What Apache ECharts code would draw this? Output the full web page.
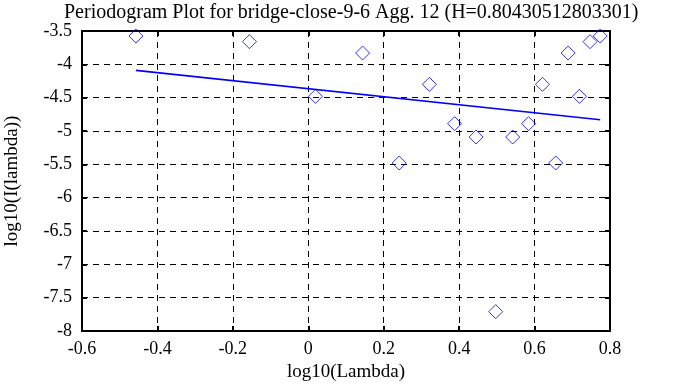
<!DOCTYPE html>
<html>
<head>
<meta charset="utf-8">
<script src="https://cdn.jsdelivr.net/npm/echarts@6/dist/echarts.min.js"></script>
<style>
html,body{margin:0;padding:0;background:#fff;}
#chart{width:683px;height:387px;}
</style>
</head>
<body>
<div id="chart"></div>
<script>
const titleText = 'Periodogram Plot for bridge-close-9-6 Agg. 12 (H=0.80430512803301)';
const xName = 'log10(Lambda)';
const yName = 'log10(I(lambda))';
const logLambda = [-0.457, -0.156, 0.019, 0.144, 0.241, 0.321, 0.388, 0.445, 0.497, 0.542, 0.584, 0.621, 0.656, 0.689, 0.719, 0.747, 0.774];
const logI = [-3.575, -3.66, -4.48, -3.83, -5.48, -4.30, -4.89, -5.09, -7.71, -5.09, -4.89, -4.30, -5.48, -3.83, -4.48, -3.66, -3.575];
const fitX = [-0.457, 0.774];
const fitY = [-4.09, -4.832];

const FONT = 'Liberation Serif';
const chart = echarts.init(document.getElementById('chart'), null, {renderer: 'canvas'});
const axisLineStyle = {color: '#000', width: 2};
const gridDash = {color: '#000', width: 1, type: [6, 5]};
chart.setOption({
  animation: false,
  backgroundColor: '#fff',
  title: {
    text: titleText, left: 59, top: -2,
    textStyle: {fontFamily: FONT, fontSize: 20, fontWeight: 'normal', color: '#000'}
  },
  grid: {left: 82, right: 73, top: 31, bottom: 56, containLabel: false, outerBoundsMode: 'none'},
  xAxis: [{
    type: 'value', min: -0.6, max: 0.8, interval: 0.2,
    name: xName, nameLocation: 'middle', nameGap: 32,
    nameTextStyle: {fontFamily: FONT, fontSize: 19, color: '#000'},
    axisLine: {show: true, onZero: false, lineStyle: axisLineStyle},
    axisTick: {show: true, inside: true, length: 5, lineStyle: {color: '#000', width: 2}},
    axisLabel: {fontFamily: FONT, fontSize: 18, color: '#000', margin: 9},
    splitLine: {show: true, lineStyle: gridDash}
  }, {
    type: 'value', position: 'top', min: -0.6, max: 0.8, interval: 0.2,
    axisLine: {show: true, onZero: false, lineStyle: axisLineStyle},
    axisTick: {show: true, inside: true, length: 5, lineStyle: {color: '#000', width: 2}},
    axisLabel: {show: false}, splitLine: {show: false}
  }],
  yAxis: [{
    type: 'value', min: -8, max: -3.5, interval: 0.5,
    name: yName, nameLocation: 'middle', nameGap: 60, nameRotate: 90,
    nameTextStyle: {fontFamily: FONT, fontSize: 19, color: '#000'},
    axisLine: {show: true, onZero: false, lineStyle: axisLineStyle},
    axisTick: {show: true, inside: true, length: 5, lineStyle: {color: '#000', width: 2}},
    axisLabel: {fontFamily: FONT, fontSize: 18, color: '#000', margin: 10, padding: [4, 0, 0, 0]},
    splitLine: {show: true, lineStyle: gridDash}
  }, {
    type: 'value', position: 'right', min: -8, max: -3.5, interval: 0.5,
    axisLine: {show: true, onZero: false, lineStyle: axisLineStyle},
    axisTick: {show: true, inside: true, length: 5, lineStyle: {color: '#000', width: 2}},
    axisLabel: {show: false}, splitLine: {show: false}
  }],
  series: [{
    type: 'scatter',
    data: logLambda.map((x, i) => [x, logI[i]]),
    symbol: 'diamond', symbolSize: [14, 14],
    itemStyle: {color: 'rgba(0,0,0,0)', borderColor: '#0000ff', borderWidth: 1},
    z: 3
  }, {
    type: 'line',
    data: fitX.map((x, i) => [x, fitY[i]]),
    showSymbol: false, symbol: 'none',
    lineStyle: {color: '#0000ff', width: 1.6},
    z: 4
  }]
});
</script>
</body>
</html>
